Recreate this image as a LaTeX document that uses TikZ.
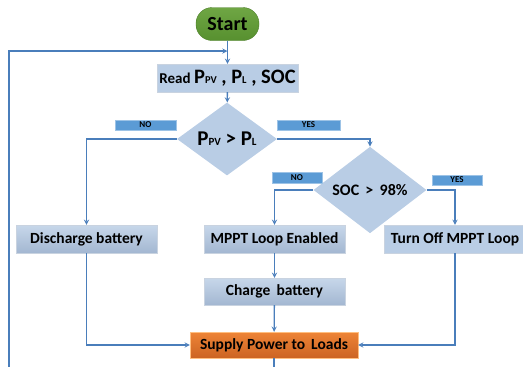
\documentclass[tikz,border=0pt]{standalone}
\usepackage{fontspec}
\setmainfont{Carlito}
\usepackage{tikz}
\usetikzlibrary{shapes.geometric}
\definecolor{flowline}{HTML}{4A7EBB}
\definecolor{boxfill}{HTML}{B9CDE5}
\definecolor{boxdark}{HTML}{A3B7D1}
\definecolor{boxedge}{HTML}{C9D3E0}
\definecolor{tagfill}{HTML}{5B9BD5}
\definecolor{tagedge}{HTML}{9DC3E6}
\definecolor{startfill}{HTML}{6FA644}
\definecolor{startdark}{HTML}{57902F}
\definecolor{startedge}{HTML}{4D7F2A}
\definecolor{supplyfill}{HTML}{EE8436}
\definecolor{supplydark}{HTML}{CC6423}

\begin{document}
\begin{tikzpicture}[x=1pt,y=-1pt,>=stealth,
  line/.style={draw=flowline,line width=1.3pt},
  box/.style={draw=boxedge,fill=boxfill,minimum width=141pt,minimum height=28pt,inner sep=0pt,
    font=\fontsize{15.5}{18}\selectfont\bfseries},
  shadebox/.style={box,top color=boxfill!80!white,bottom color=boxdark},
  decision/.style={diamond,fill=boxfill,inner sep=0pt,font=\bfseries},
  tag/.style={draw=tagedge,line width=0.4pt,fill=tagfill,inner sep=0pt,
    font=\fontsize{9}{9}\selectfont\bfseries,text=black}]
\useasboundingbox (0,0) rectangle (523,367);
\clip (0,0) rectangle (523,367);
% boxes
\node[draw=startedge,top color=startfill,bottom color=startdark,
  rounded corners=16pt,minimum width=63pt,minimum height=33pt,inner sep=0pt,
  font=\fontsize{20}{22}\selectfont\bfseries] (start) at (227.5,24) {Start};
\node[box,minimum height=28pt] (read) at (227.5,78)
  {{\fontsize{15}{15}\selectfont Read} \fontsize{20.5}{22}\selectfont P{\fontsize{10.5}{10}\selectfont PV} , P{\fontsize{10.5}{10}\selectfont L} , SOC};
\node[decision,minimum width=100pt,minimum height=66pt,font=\fontsize{21}{22}\selectfont\bfseries] (ppv) at (227,139)
  {P{\fontsize{11}{11}\selectfont PV} > P{\fontsize{11}{11}\selectfont L}};
\node[decision,minimum width=113pt,minimum height=63pt,font=\fontsize{16}{18}\selectfont\bfseries] (soc) at (370,190)
  {SOC \,> \,98\%};
\node[shadebox] (discharge) at (86.5,239) {Discharge battery};
\node[shadebox] (mppt) at (274.5,239) {MPPT Loop Enabled};
\node[box,minimum width=142pt] (turnoff) at (455,239) {Turn Off MPPT Loop};
\node[shadebox,minimum height=27pt] (charge) at (274.5,291.5) {Charge\, battery};
\node[box,draw=orange!50!white,top color=supplyfill,bottom color=supplydark,
  minimum width=168pt,minimum height=26pt] (supply) at (274,345) {Supply Power to\, Loads};
% yes / no tags
\node[tag,minimum width=61pt,minimum height=10pt] (no1) at (145.5,125) {NO};
\node[tag,minimum width=63pt,minimum height=10pt] (yes1) at (308.5,125) {YES};
\node[tag,minimum width=50pt,minimum height=11pt] (no2) at (297,177.5) {NO};
\node[tag,minimum width=50pt,minimum height=10pt] (yes2) at (457,180) {YES};
\coordinate (loopin) at (9,372);
\coordinate (rejoin) at (227.5,51);
\coordinate (out) at (274,372);
% connectors
\draw[line,->] (start) -- (read);
\draw[line,->] (loopin) |- (rejoin);
\draw[line,->] (read) -- (ppv);
\draw[line,->] (ppv.west) -| (discharge.north);
\draw[line,->] (ppv.east) -| (soc.north);
\draw[line,->] (soc.west) -| (mppt.north);
\draw[line,->] (soc.east) -| (turnoff.north);
\draw[line,->] (mppt) -- (charge);
\draw[line,->] (charge) -- (supply);
\draw[line,->] (discharge.south) |- (supply.west);
\draw[line,->] (turnoff.south) |- (supply.east);
\draw[line] (supply) -- (out);
\end{tikzpicture}
\end{document}
